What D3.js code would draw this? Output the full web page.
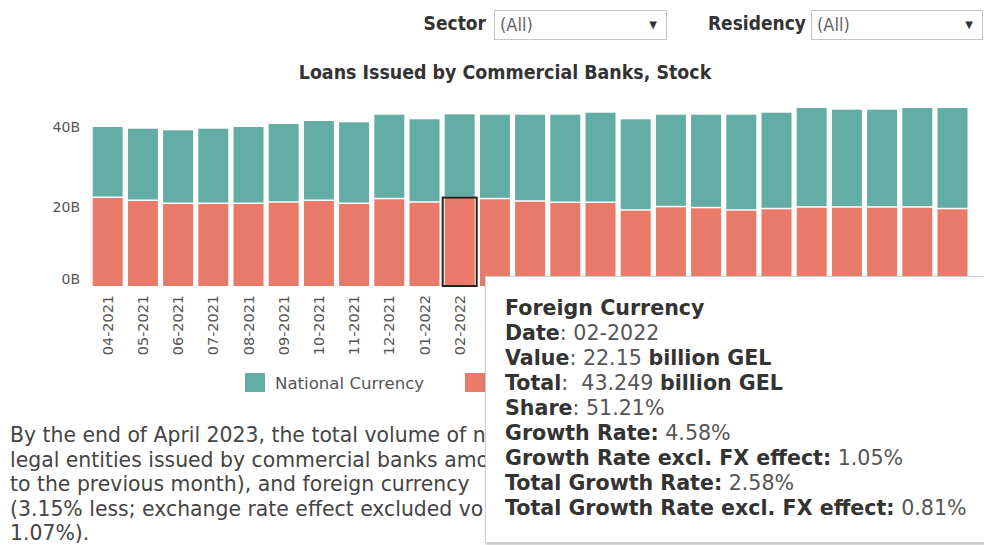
<!DOCTYPE html>
<html>
<head>
<meta charset="utf-8">
<script src="https://cdn.jsdelivr.net/npm/d3@7"></script>
<style>
  body { margin: 0; background: #fff; }
  svg text { white-space: pre; }
</style>
</head>
<body>
<div id="chart"></div>
<script>
const WIDTH = 984;
const HEIGHT = 545;

const TEAL = '#64aca6';
const SALMON = '#e97a69';
const COND = "'DejaVu Sans Condensed', 'DejaVu Sans', sans-serif";
const SANS = "'DejaVu Sans', Verdana, sans-serif";

// data (billion GEL)
const months = ['04-2021', '05-2021', '06-2021', '07-2021', '08-2021', '09-2021', '10-2021', '11-2021', '12-2021',
    '01-2022', '02-2022', '03-2022', '04-2022', '05-2022', '06-2022', '07-2022', '08-2022', '09-2022', '10-2022',
    '11-2022', '12-2022', '01-2023', '02-2023', '03-2023', '04-2023'];
const foreign = [22.17, 21.41, 20.65, 20.65, 20.65, 20.98, 21.41, 20.65, 21.84, 20.98, 22.15, 21.84, 21.23,
    20.9, 20.9, 18.97, 19.82, 19.57, 18.97, 19.32, 19.72, 19.72, 19.72, 19.72, 19.32];
const national = [17.88, 18.21, 18.57, 18.97, 19.40, 19.83, 20.15, 20.58, 21.31, 21.01, 21.099, 21.31, 21.92,
    22.25, 22.75, 23.02, 23.33, 23.58, 24.18, 24.33, 25.12, 24.69, 24.69, 25.12, 25.52];
const yTicks = [0, 20, 40];
const seriesNames = ['National Currency', 'Foreign Currency'];
const selected = '02-2022';

const tipLines = [
    [['Foreign Currency', true]],
    [['Date', true], [': 02-2022', false]],
    [['Value', true], [': 22.15 ', false], ['billion GEL', true]],
    [['Total', true], [':  43.249 ', false], ['billion GEL', true]],
    [['Share', true], [': 51.21%', false]],
    [['Growth Rate:', true], [' 4.58%', false]],
    [['Growth Rate excl. FX effect:', true], [' 1.05%', false]],
    [['Total Growth Rate:', true], [' 2.58%', false]],
    [['Total Growth Rate excl. FX effect:', true], [' 0.81%', false]]
];

const paragraph = [
    'By the end of April 2023, the total volume of n',
    'legal entities issued by commercial banks amo',
    'to the previous month), and foreign currency',
    '(3.15% less; exchange rate effect excluded vo',
    '1.07%).'
];

var svg = d3.select('#chart').append('svg')
    .attr('width', WIDTH)
    .attr('height', HEIGHT);

var defs = svg.append('defs');
defs.append('filter').attr('id', 'shadow')
    .attr('x', '-5%').attr('y', '-5%').attr('width', '115%').attr('height', '115%')
    .append('feDropShadow')
    .attr('dx', 1).attr('dy', 2).attr('stdDeviation', 1.5)
    .attr('flood-color', '#000').attr('flood-opacity', 0.25);

// everything left of the tooltip
defs.append('clipPath').attr('id', 'leftpart')
    .append('rect').attr('x', 0).attr('y', 0).attr('width', 486).attr('height', HEIGHT);

// filters at the top
const filters = [
    { label: 'Sector', lx: 486, bx: 494, bw: 172 },
    { label: 'Residency', lx: 806, bx: 811, bw: 171 }
];
filters.forEach(f => {
    svg.append('text')
        .attr('x', f.lx).attr('y', 30)
        .attr('text-anchor', 'end')
        .attr('font-family', COND).attr('font-stretch', 'condensed')
        .attr('font-weight', 'bold').attr('font-size', 19)
        .attr('fill', '#333')
        .text(f.label);
    svg.append('rect')
        .attr('x', f.bx + 0.5).attr('y', 10.5)
        .attr('width', f.bw).attr('height', 29)
        .attr('fill', '#fff').attr('stroke', '#c4c4c4');
    svg.append('text')
        .attr('x', f.bx + 6).attr('y', 31)
        .attr('font-family', COND).attr('font-stretch', 'condensed')
        .attr('font-size', 18).attr('fill', '#666')
        .text('(All)');
    svg.append('text')
        .attr('x', f.bx + f.bw - 13).attr('y', 28)
        .attr('text-anchor', 'middle')
        .attr('font-family', SANS).attr('font-size', 10).attr('fill', '#333')
        .text('▼');
});

svg.append('text')
    .attr('x', 505).attr('y', 79)
    .attr('text-anchor', 'middle')
    .attr('font-family', COND).attr('font-stretch', 'condensed')
    .attr('font-weight', 'bold').attr('font-size', 19.4)
    .attr('fill', '#333')
    .text('Loans Issued by Commercial Banks, Stock');

// scales
var x = d3.scaleBand()
    .domain(months)
    .range([90.1, 970.1])
    .paddingInner(0.148)
    .paddingOuter(0.074);

var y = d3.scaleLinear()
    .domain([0, 40])
    .range([286, 127.2]);

// y axis
var yAxis = svg.append('g')
    .attr('transform', 'translate(80,0)')
    .call(d3.axisLeft(y).tickValues(yTicks).tickSize(0).tickPadding(0).tickFormat(d => d + 'B'));
yAxis.select('.domain').remove();
yAxis.selectAll('text')
    .attr('font-family', SANS).attr('font-size', 14).attr('fill', '#555')
    .attr('dy', d => d === 0 ? '-0.15em' : '0.32em');

// bars
const rows = months.map((m, i) => ({ month: m, f: foreign[i], n: national[i] }));

svg.append('g').selectAll('rect')
    .data(rows)
    .join('rect')
    .attr('x', d => x(d.month))
    .attr('width', x.bandwidth())
    .attr('y', d => y(d.f))
    .attr('height', d => y(0) - y(d.f))
    .attr('fill', SALMON);

svg.append('g').selectAll('rect')
    .data(rows)
    .join('rect')
    .attr('x', d => x(d.month))
    .attr('width', x.bandwidth())
    .attr('y', d => y(d.f + d.n))
    .attr('height', d => y(d.f) - y(d.f + d.n) - 1.5)
    .attr('fill', TEAL);

// highlighted mark
const sel = rows.find(d => d.month === selected);
svg.append('rect')
    .attr('x', x(sel.month) - 2)
    .attr('y', y(sel.f) - 0.5)
    .attr('width', x.bandwidth() + 4)
    .attr('height', y(0) - y(sel.f) + 0.5)
    .attr('fill', 'none')
    .attr('stroke', '#222')
    .attr('stroke-width', 2);

// x axis labels (the ones under the tooltip are hidden by it)
var xAxis = svg.append('g')
    .attr('transform', 'translate(0,291)')
    .attr('clip-path', 'url(#leftpart)')
    .call(d3.axisBottom(x).tickSize(0).tickPadding(0));
xAxis.select('.domain').remove();
xAxis.selectAll('.tick').filter(d => x(d) > 486).remove();
xAxis.selectAll('text')
    .attr('font-family', SANS).attr('font-size', 14.4).attr('fill', '#555')
    .attr('text-anchor', 'end')
    .attr('transform', 'rotate(-90)')
    .attr('x', -4).attr('y', 0).attr('dy', '0.35em');

// legend
var legend = svg.append('g').attr('transform', 'translate(245,373)').attr('clip-path', 'url(#leftpart)');
seriesNames.forEach((name, i) => {
    const g = legend.append('g').attr('transform', `translate(${i * 220},0)`);
    g.append('rect').attr('width', 20).attr('height', 19).attr('fill', i === 0 ? TEAL : SALMON);
    if (i === 0) {
        g.append('text')
            .attr('x', 30).attr('y', 10).attr('dy', '0.35em')
            .attr('font-family', SANS).attr('font-size', 16.6).attr('fill', '#555')
            .text(name);
    }
});

// commentary text, cut off by the tooltip
svg.append('g')
    .attr('clip-path', 'url(#leftpart)')
    .selectAll('text')
    .data(paragraph)
    .join('text')
    .attr('x', 10)
    .attr('y', (d, i) => 442 + i * 24.6)
    .attr('font-family', SANS).attr('font-size', 20.4).attr('fill', '#444')
    .text(d => d);

// tooltip
var tip = svg.append('g').attr('transform', 'translate(485,276)');
tip.append('rect')
    .attr('x', 0.5).attr('y', 0.5)
    .attr('width', 510).attr('height', 266)
    .attr('fill', '#fff').attr('stroke', '#d0d0d0')
    .attr('filter', 'url(#shadow)');

tip.selectAll('text.line')
    .data(tipLines)
    .join('text')
    .attr('class', 'line')
    .attr('x', 20)
    .attr('y', (d, i) => 39 + i * 25)
    .attr('font-family', SANS).attr('font-size', 20.6)
    .selectAll('tspan')
    .data(d => d)
    .join('tspan')
    .attr('font-weight', d => d[1] ? 'bold' : 'normal')
    .attr('fill', d => d[1] ? '#333' : '#555')
    .text(d => d[0]);
</script>
</body>
</html>
